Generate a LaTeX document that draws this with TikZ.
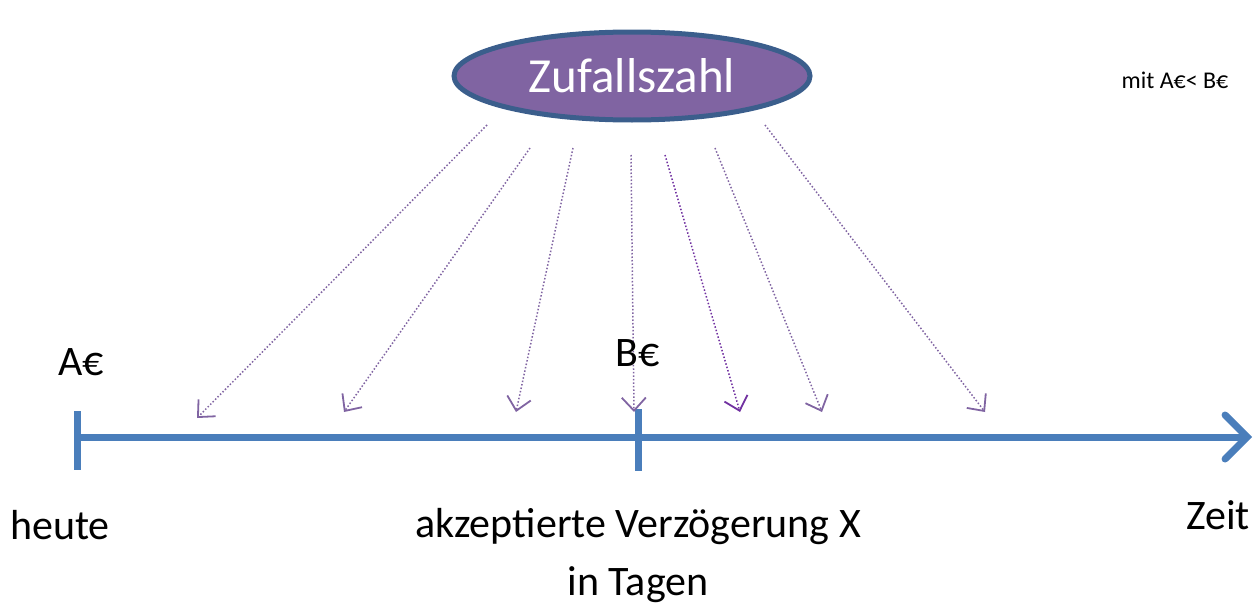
\documentclass[tikz,border=0pt]{standalone}
\usepackage{fontspec}
\setmainfont{Carlito}
\usetikzlibrary{arrows.meta,shapes.geometric}
\definecolor{axisblue}{HTML}{4A7EBB}
\definecolor{ellfill}{HTML}{8064A2}
\definecolor{elldraw}{HTML}{3B5E8C}
\definecolor{arrpurple}{HTML}{8064A2}
\definecolor{arrdark}{HTML}{7030A0}
\tikzset{
  lbl/.style={font=\fontsize{42}{48}\selectfont, inner sep=0pt},
  ray/.style={draw=arrpurple, line width=1.5pt, dotted, -{Straight Barb[length=13pt,width=24pt,line width=1.8pt]}},
  axisline/.style={draw=axisblue, line width=7pt},
}
\begin{document}
\begin{tikzpicture}[x=1pt,y=-1pt]
\useasboundingbox (0,0) rectangle (1256,605);
% axis
\coordinate (ax0) at (75,437);
\coordinate (ax1) at (1252,437);
\draw[axisline, line cap=butt, -{Straight Barb[length=22pt,width=44pt,line width=7pt, line cap=round]}] (ax0) -- (ax1);
\coordinate (ta1) at (77,411);
\coordinate (ta2) at (77,470);
\coordinate (tb1) at (638,409);
\coordinate (tb2) at (638,471);
\draw[axisline] (ta1) -- (ta2);
\draw[axisline] (tb1) -- (tb2);
% ellipse
\node[ellipse, draw=elldraw, fill=ellfill, line width=5pt, minimum width=356pt, minimum height=88pt, inner sep=0pt,
      text=white, font=\fontsize{49}{56}\selectfont] (zz) at (632,76) {Zufallszahl};
% ray coordinates
\coordinate (s1) at (487,125); \coordinate (e1) at (197,418);
\coordinate (s2) at (530,148); \coordinate (e2) at (344,412);
\coordinate (s3) at (573,148); \coordinate (e3) at (516,412);
\coordinate (s4) at (631,155); \coordinate (e4) at (634,412);
\coordinate (s5) at (665,155); \coordinate (e5) at (740,412);
\coordinate (s6) at (715,148); \coordinate (e6) at (822,412);
\coordinate (s7) at (765,125); \coordinate (e7) at (985,412);
\draw[ray] (s1) -- (e1);
\draw[ray] (s2) -- (e2);
\draw[ray] (s3) -- (e3);
\draw[ray] (s4) -- (e4);
\draw[ray, draw=arrdark] (s5) -- (e5);
\draw[ray] (s6) -- (e6);
\draw[ray] (s7) -- (e7);
% labels
\node[lbl] (A) at (81,362) {A€};
\node[lbl] (B) at (638,353) {B€};
\node[lbl] (heute) at (60,525) {heute};
\node[lbl] (akz) at (638,527) {akzeptierte Verzögerung X};
\node[lbl] (tage) at (638,585) {in Tagen};
\node[lbl] (zeit) at (1218,515) {Zeit};
\node[font=\fontsize{24}{28}\selectfont, inner sep=0pt] (mit) at (1175,80) {mit A€< B€};
\end{tikzpicture}
\end{document}
